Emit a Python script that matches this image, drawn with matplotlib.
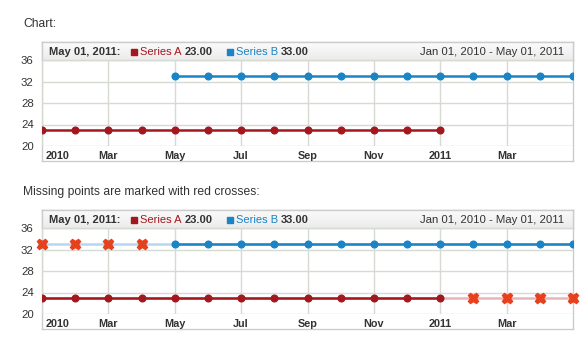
import matplotlib
matplotlib.use('Agg')
import matplotlib.pyplot as plt
import numpy as np
from matplotlib.patches import Rectangle
from matplotlib.transforms import ScaledTranslation

# ---------------- data ----------------
months = ['Jan 2010', 'Feb 2010', 'Mar 2010', 'Apr 2010', 'May 2010', 'Jun 2010',
          'Jul 2010', 'Aug 2010', 'Sep 2010', 'Oct 2010', 'Nov 2010', 'Dec 2010',
          'Jan 2011', 'Feb 2011', 'Mar 2011', 'Apr 2011', 'May 2011']
tick_idx = [0, 2, 4, 6, 8, 10, 12, 14]
tick_labels = ['2010', 'Mar', 'May', 'Jul', 'Sep', 'Nov', '2011', 'Mar']
y_ticks = [20, 24, 28, 32, 36]

series_a = [23, 23, 23, 23, 23, 23, 23, 23, 23, 23, 23, 23, 23, None, None, None, None]
series_b = [None, None, None, None, 33, 33, 33, 33, 33, 33, 33, 33, 33, 33, 33, 33, 33]
# values at which missing points are marked (second chart)
missing_a = [None, None, None, None, None, None, None, None, None, None, None, None, None, 23, 23, 23, 23]
missing_b = [33, 33, 33, 33, None, None, None, None, None, None, None, None, None, None, None, None, None]

header_date = 'May 01, 2011:'
header_a = ('Series A', '23.00')
header_b = ('Series B', '33.00')
header_range = 'Jan 01, 2010 - May 01, 2011'
titles = ['Chart:', 'Missing points are marked with red crosses:']

# ---------------- style ----------------
plt.rcParams['font.family'] = ['Liberation Sans', 'DejaVu Sans']
COL_A = '#a3181e'
COL_B = '#1a84c6'
COL_A_LIGHT = '#e8b6b8'
COL_B_LIGHT = '#b7d7ee'
COL_X = '#e8401c'
TXT = '#333333'
GRID = '#d5dbd3'
BORDER = '#cccccc'

W, H = 585, 350
fig = plt.figure(figsize=(W / 100, H / 100), dpi=100)
renderer = fig.canvas.get_renderer()


def rect(x0, y0, x1, y1):
    return [x0 / W, 1 - y1 / H, (x1 - x0) / W, (y1 - y0) / H]


def fx(x):
    return x / W


def fy(y):
    return 1 - y / H


x = np.arange(len(months))
a = np.array(series_a, dtype=float)
b = np.array(series_b, dtype=float)
ma = np.array(missing_a, dtype=float)
mb = np.array(missing_b, dtype=float)

HFS = 8.0


def put(xpx, ypx, s, **kw):
    t = fig.text(fx(xpx), fy(ypx), s, fontsize=HFS, va='center', ha='left', **kw)
    bb = t.get_window_extent(renderer)
    return xpx + bb.width


def square(xpx, ypx, col):
    fig.patches.append(Rectangle((fx(xpx), fy(ypx + 3)), 6 / W, 6 / H,
                                 transform=fig.transFigure, color=col, figure=fig))
    return xpx + 6


def draw_chart(top, show_missing, title):
    fig.text(fx(23), fy(top - 18), title, fontsize=8.7, color=TXT, va='center', ha='left')

    # frame
    axf = fig.add_axes(rect(42, top, 573, top + 119))
    axf.set_facecolor('white')
    axf.set_xticks([]); axf.set_yticks([])
    for s in axf.spines.values():
        s.set_color(BORDER)
        s.set_linewidth(1)

    # header
    axh = fig.add_axes(rect(42, top, 573, top + 18))
    grad = np.linspace(0.985, 0.925, 50).reshape(-1, 1)
    axh.imshow(np.dstack([grad, grad, grad]), aspect='auto', extent=[0, 1, 0, 1])
    axh.set_xlim(0, 1); axh.set_ylim(0, 1)
    axh.set_xticks([]); axh.set_yticks([])
    for s in axh.spines.values():
        s.set_color(BORDER)
        s.set_linewidth(1)

    yc = top + 10
    cx = put(49, yc, header_date, fontweight='bold', color=TXT)
    cx = square(cx + 11, yc, COL_A)
    cx = put(cx + 3, yc, header_a[0], color=COL_A)
    cx = put(cx + 3, yc, header_a[1], fontweight='bold', color=TXT)
    cx = square(cx + 14, yc, COL_B)
    cx = put(cx + 3, yc, header_b[0], color=COL_B)
    put(cx + 3, yc, header_b[1], fontweight='bold', color=TXT)
    fig.text(fx(564), fy(yc), header_range, fontsize=8.2, color=TXT, va='center', ha='right')

    # plot area
    ax = fig.add_axes(rect(42, top + 18, 573, top + 104))
    ax.set_facecolor('none')
    ax.set_xlim(0, len(months) - 1)
    ax.set_ylim(y_ticks[0], y_ticks[-1])
    ax.set_yticks(y_ticks)
    ax.set_yticklabels([str(v) for v in y_ticks], fontsize=8.2, color=TXT)
    ax.set_xticks(tick_idx)
    ax.set_xticklabels(tick_labels, fontsize=7.8, fontweight='bold', color=TXT)
    ax.tick_params(axis='both', length=0)
    ax.tick_params(axis='y', pad=6)
    ax.tick_params(axis='x', pad=3.5)
    lab0 = ax.get_xticklabels()[0]
    lab0.set_ha('left')
    lab0.set_transform(lab0.get_transform() + ScaledTranslation(4 / 100, 0, fig.dpi_scale_trans))
    for s in ax.spines.values():
        s.set_visible(False)
    ax.grid(True, color=GRID, linewidth=1)
    ax.set_axisbelow(True)

    if show_missing:
        fa = np.where(np.isnan(a), ma, a)
        fb = np.where(np.isnan(b), mb, b)
        ax.plot(x, fa, color=COL_A_LIGHT, lw=1.8, zorder=2, solid_capstyle='butt')
        ax.plot(x, fb, color=COL_B_LIGHT, lw=1.8, zorder=2, solid_capstyle='butt')

    ax.plot(x, a, color=COL_A, lw=1.8, marker='o', ms=4.8, zorder=3)
    ax.plot(x, b, color=COL_B, lw=1.8, marker='o', ms=4.8, zorder=3)

    if show_missing:
        ax.plot(x, ma, ls='none', marker='X', ms=7.5, color=COL_X, mec=COL_X,
                zorder=4, clip_on=False)
        ax.plot(x, mb, ls='none', marker='X', ms=7.5, color=COL_X, mec=COL_X,
                zorder=4, clip_on=False)


draw_chart(42, False, titles[0])
draw_chart(210, True, titles[1])

fig.savefig('out.png', dpi=100)
